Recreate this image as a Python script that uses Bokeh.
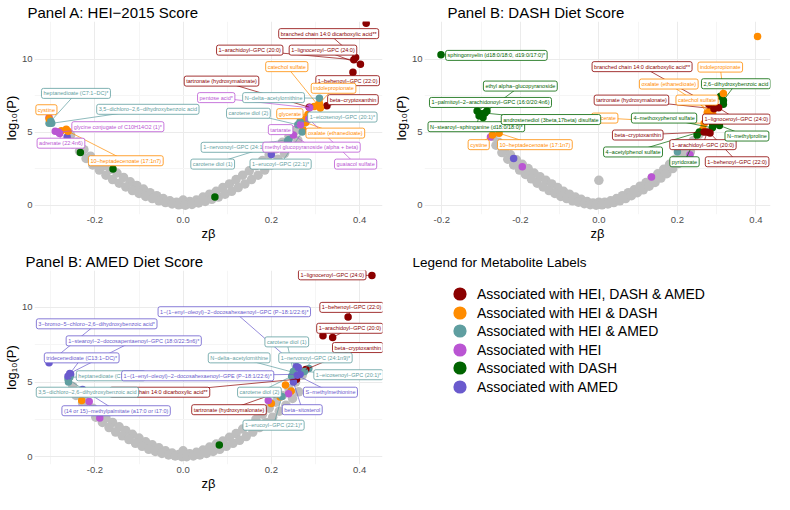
import numpy as np
from bokeh.plotting import figure
from bokeh.models import Range1d, FixedTicker, ColumnDataSource, Legend, LegendItem
from bokeh.layouts import column, row
from bokeh.embed import file_html
from bokeh.resources import INLINE
from bokeh.core.properties import value

FONT = "Liberation Sans"

# ---------------- groups ----------------
group_order = ["HDA", "HD", "HA", "H", "D", "A"]
group_colors = {"HDA": "#8B0000", "HD": "#FF8C00", "HA": "#5F9EA0",
                "H": "#BA55D3", "D": "#006400", "A": "#6A5ACD"}
group_labels = {"HDA": "Associated with HEI, DASH & AMED",
                "HD": "Associated with HEI & DASH",
                "HA": "Associated with HEI & AMED",
                "H": "Associated with HEI",
                "D": "Associated with DASH",
                "A": "Associated with AMED"}

# ---------------- Panel A: HEI-2015 ----------------
A_gray_beta = [-0.255, -0.24, -0.225, -0.21, -0.195, -0.18, -0.165, -0.15, -0.135, -0.12, -0.105, -0.09,
               -0.075, -0.06, -0.045, -0.03, -0.015, 0.0, 0.015, 0.03, 0.045, 0.06, 0.075, 0.09, 0.105,
               0.12, 0.135, 0.15, 0.165, 0.18, 0.195, 0.21, 0.225, 0.24, 0.255, 0.27,
               -0.25, -0.235, -0.22, -0.205, -0.19, -0.175, -0.16, -0.145, -0.13, -0.115, -0.1, -0.085,
               -0.07, -0.055, -0.04, -0.025, -0.01, 0.005, 0.02, 0.035, 0.05, 0.065, 0.08, 0.095, 0.11,
               0.125, 0.14, 0.155, 0.17, 0.185, 0.2, 0.215, 0.23, 0.245, 0.26]
A_gray_logp = [4.8, 4.3, 3.8, 3.35, 3.0, 2.7, 2.45, 2.2, 1.9, 1.6, 1.35, 1.1,
               0.85, 0.65, 0.45, 0.3, 0.2, 0.35, 0.25, 0.35, 0.55, 0.75, 0.95, 1.2, 1.45,
               1.75, 2.05, 2.35, 2.7, 3.05, 3.45, 3.85, 4.3, 4.7, 5.1, 5.5,
               4.2, 3.7, 3.2, 2.75, 2.4, 2.05, 1.75, 1.5, 1.25, 1.0, 0.8, 0.6,
               0.45, 0.3, 0.18, 0.08, 0.02, 0.0, 0.05, 0.15, 0.25, 0.4, 0.55, 0.75, 0.95,
               1.2, 1.45, 1.75, 2.05, 2.4, 2.75, 3.15, 3.55, 4.0, 4.45]

A_dot_beta = [0.415, -0.276, -0.265, 0.297, 0.309, 0.275, 0.272, -0.304, -0.304, -0.29,
              -0.233, -0.159, 0.072, -0.263, 0.2]
A_dot_logp = [12.45, 5.1, 5.2, 6.75, 6.95, 5.9, 5.15, 5.6, 6.0, 5.05,
              3.61, 2.47, 0.55, 4.66, 3.47]
A_dot_group = ["HDA", "HD", "HD", "HD", "HD", "HD", "HD", "HA", "H", "H",
               "D", "D", "D", "A", "A"]

A_names = ["branched chain 14:0 dicarboxylic acid**", "1−arachidoyl−GPC (20:0)", "1−lignoceroyl−GPC (24:0)",
           "1−behenoyl−GPC (22:0)", "tartronate (hydroxymalonate)", "beta−cryptoxanthin",
           "catechol sulfate", "indolepropionate", "glycerate", "oxalate (ethanedioate)", "cystine",
           "10−heptadecenoate (17:1n7)", "heptanedioate (C7:1−DC)*",
           "3,5−dichloro−2,6−dihydroxybenzoic acid", "N−delta−acetylornithine", "carotene diol (2)",
           "1−eicosenoyl−GPC (20:1)*", "1−nervonoyl−GPC (24:1n9)*", "carotene diol (1)",
           "1−erucoyl−GPC (22:1)*", "glycine conjugate of C10H14O2 (1)*", "adrenate (22:4n6)",
           "pentose acid*", "tartarate", "methyl glucopyranoside (alpha + beta)", "guaiacol sulfate"]
A_group = ["HDA", "HDA", "HDA", "HDA", "HDA", "HDA", "HD", "HD", "HD", "HD", "HD", "HD",
           "HA", "HA", "HA", "HA", "HA", "HA", "HA", "HA", "H", "H", "H", "H", "H", "H"]
A_beta = [0.391, 0.387, 0.402, 0.385, 0.286, 0.326, 0.311, 0.304, 0.283, 0.278, -0.304, -0.261,
          -0.30, -0.298, 0.309, 0.26, 0.265, 0.24, 0.237, 0.27, -0.283, -0.28, 0.287, 0.266, 0.25, 0.285]
A_logp = [10.1, 9.95, 9.65, 9.1, 6.7, 6.8, 6.65, 6.8, 6.2, 5.65, 5.92, 5.06,
          5.75, 5.6, 7.32, 5.5, 5.7, 4.5, 4.4, 5.0, 5.0, 4.9, 6.66, 5.51, 4.8, 5.9]
# label box centres (layout)
A_lab_x = [0.330, 0.151, 0.317, 0.373, 0.087, 0.385, 0.235, 0.341, 0.242, 0.345, -0.310, -0.130,
           -0.243, -0.080, 0.205, 0.148, 0.361, 0.124, 0.067, 0.221, -0.148, -0.277, 0.075, 0.221, 0.291, 0.391]
A_lab_y = [11.74, 10.61, 10.61, 8.52, 8.49, 7.22, 9.48, 8.0, 6.26, 4.93, 6.53, 3.04,
           7.65, 6.56, 7.36, 6.29, 6.03, 3.96, 2.81, 2.81, 5.37, 4.24, 7.36, 5.17, 3.97, 2.81]

# ---------------- Panel B: DASH ----------------
B_gray_beta = [-0.27, -0.255, -0.24, -0.225, -0.21, -0.195, -0.18, -0.165, -0.15, -0.135, -0.12, -0.105,
               -0.09, -0.075, -0.06, -0.045, -0.03, -0.015, 0.0, 0.015, 0.03, 0.045, 0.06, 0.075, 0.09,
               0.105, 0.12, 0.135, 0.15, 0.165, 0.18, 0.195, 0.21, 0.225, 0.24, 0.255,
               -0.262, -0.247, -0.232, -0.217, -0.202, -0.187, -0.172, -0.157, -0.142, -0.127, -0.112,
               -0.097, -0.082, -0.067, -0.052, -0.037, -0.022, -0.007, 0.008, 0.023, 0.038, 0.053, 0.068,
               0.083, 0.098, 0.113, 0.128, 0.143, 0.158, 0.173, 0.188, 0.203, 0.218, 0.233, 0.248, 0.0]
B_gray_logp = [4.7, 4.3, 3.85, 3.45, 3.1, 2.8, 2.5, 2.2, 1.95, 1.7, 1.45, 1.2,
               0.95, 0.75, 0.55, 0.4, 0.25, 0.15, 0.2, 0.2, 0.3, 0.45, 0.65, 0.85, 1.05,
               1.3, 1.55, 1.85, 2.15, 2.45, 2.8, 3.15, 3.55, 3.95, 4.4, 4.85,
               4.1, 3.6, 3.15, 2.75, 2.4, 2.1, 1.8, 1.5, 1.25, 1.0, 0.8,
               0.6, 0.45, 0.3, 0.2, 0.1, 0.03, 0.0, 0.02, 0.08, 0.18, 0.3, 0.45,
               0.65, 0.85, 1.05, 1.3, 1.55, 1.85, 2.15, 2.5, 2.85, 3.25, 3.65, 4.1, 1.7]

B_dot_beta = [0.404, 0.265, 0.283, 0.29, 0.31, 0.317, 0.29, -0.30, -0.295,
              -0.276, -0.195, 0.232, 0.134, -0.217, 0.2]
B_dot_logp = [11.55, 5.2, 6.9, 6.2, 7.45, 6.9, 5.5, 6.25, 6.0,
              4.66, 2.62, 3.45, 1.93, 3.2, 3.65]
B_dot_group = ["HD", "HD", "HD", "HD", "D", "D", "D", "D", "D",
               "H", "H", "H", "H", "A", "HA"]

B_names = ["sphingomyelin (d18:0/18:0, d19:0/17:0)*", "ethyl alpha−glucopyranoside",
           "1−palmitoyl−2−arachidonoyl−GPC (16:0/20:4n6)", "N−stearoyl−sphinganine (d18:0/18:0)*",
           "androstenediol (3beta,17beta) disulfate", "2,6−dihydroxybenzoic acid", "4−methoxyphenol sulfate",
           "N−methylproline", "4−acetylphenol sulfate", "pyridoxate", "indolepropionate",
           "oxalate (ethanedioate)", "catechol sulfate", "glycerate", "cystine", "10−heptadecenoate (17:1n7)",
           "branched chain 14:0 dicarboxylic acid**", "tartronate (hydroxymalonate)",
           "1−lignoceroyl−GPC (24:0)", "beta−cryptoxanthin", "1−arachidoyl−GPC (20:0)", "1−behenoyl−GPC (22:0)"]
B_group = ["D", "D", "D", "D", "D", "D", "D", "D", "D", "D", "HD", "HD", "HD", "HD", "HD", "HD",
           "HDA", "HDA", "HDA", "HDA", "HDA", "HDA"]
B_beta = [-0.402, -0.285, -0.31, -0.305, -0.29, 0.317, 0.289, 0.307, 0.256, 0.25, 0.317,
          0.283, 0.276, 0.268, -0.271, -0.254, 0.28, 0.293, 0.305, 0.268, 0.276, 0.283]
B_logp = [10.29, 6.45, 6.45, 6.12, 6.3, 7.16, 5.29, 5.46, 5.0, 4.8, 7.65,
          6.45, 6.32, 5.59, 4.8, 4.92, 6.91, 6.6, 6.66, 5.0, 5.0, 4.93]
B_lab_x = [-0.261, -0.2, -0.276, -0.312, -0.122, 0.349, 0.166, 0.377, 0.087, 0.218, 0.309,
           0.178, 0.25, 0.015, -0.306, -0.163, 0.11, 0.083, 0.35, 0.099, 0.265, 0.352]
B_lab_y = [10.25, 8.15, 7.03, 5.37, 5.86, 8.31, 5.96, 4.73, 3.64, 2.97, 9.45,
           8.29, 7.19, 5.96, 4.14, 4.14, 9.48, 7.19, 5.89, 4.8, 4.14, 2.97]

# ---------------- Panel C: AMED ----------------
C_gray_beta = [-0.25, -0.235, -0.22, -0.205, -0.19, -0.175, -0.16, -0.145, -0.13, -0.115, -0.1, -0.085,
               -0.07, -0.055, -0.04, -0.025, -0.01, 0.0, 0.015, 0.03, 0.045, 0.06, 0.075, 0.09, 0.105,
               0.12, 0.135, 0.15, 0.165, 0.18, 0.195, 0.21, 0.225, 0.24, 0.255, 0.27,
               -0.243, -0.228, -0.213, -0.198, -0.183, -0.168, -0.153, -0.138, -0.123, -0.108, -0.093,
               -0.078, -0.063, -0.048, -0.033, -0.018, -0.003, 0.008, 0.023, 0.038, 0.053, 0.068, 0.083,
               0.098, 0.113, 0.128, 0.143, 0.158, 0.173, 0.188, 0.203, 0.218, 0.233, 0.248, 0.262]
C_gray_logp = [4.7, 4.2, 3.7, 3.25, 2.9, 2.6, 2.3, 2.0, 1.75, 1.5, 1.25, 1.0,
               0.8, 0.6, 0.4, 0.25, 0.15, 0.4, 0.2, 0.3, 0.45, 0.65, 0.85, 1.05, 1.3,
               1.55, 1.85, 2.15, 2.5, 2.85, 3.25, 3.65, 4.1, 4.55, 5.0, 5.45,
               4.1, 3.6, 3.1, 2.65, 2.3, 1.95, 1.65, 1.4, 1.15, 0.9, 0.7,
               0.5, 0.35, 0.22, 0.12, 0.05, 0.0, 0.0, 0.05, 0.12, 0.22, 0.35, 0.5,
               0.7, 0.9, 1.1, 1.35, 1.65, 1.95, 2.3, 2.65, 3.05, 3.45, 3.9, 4.35]

C_dot_beta = [0.317, 0.232, 0.245, 0.2, -0.23, 0.22, -0.213, -0.189, 0.193, 0.239,
              0.082, 0.257, -0.255, -0.26, 0.285]
C_dot_logp = [8.1, 4.8, 4.4, 3.57, 3.77, 4.0, 3.7, 2.6, 3.77, 4.22,
              0.78, 6.04, 5.5, 5.0, 5.9]
C_dot_group = ["HDA", "HD", "HD", "HD", "HD", "HD", "H", "H", "H", "H",
               "D", "A", "A", "HA", "HA"]

C_names = ["1−lignoceroyl−GPC (24:0)", "1−behenoyl−GPC (22:0)", "1−arachidoyl−GPC (20:0)",
           "beta−cryptoxanthin", "branched chain 14:0 dicarboxylic acid**", "tartronate (hydroxymalonate)",
           "carotene diol (1)", "N−delta−acetylornithine", "1−nervonoyl−GPC (24:1n9)*",
           "1−eicosenoyl−GPC (20:1)*", "carotene diol (2)", "1−erucoyl−GPC (22:1)*",
           "heptanedioate (C7:1−DC)*", "3,5−dichloro−2,6−dihydroxybenzoic acid",
           "1−(1−enyl−oleoyl)−2−docosahexaenoyl−GPC (P−18:1/22:6)*",
           "3−bromo−5−chloro−2,6−dihydroxybenzoic acid*",
           "1−stearoyl−2−docosapentaenoyl−GPC (18:0/22:5n6)*", "tridecenedioate (C13:1−DC)*",
           "1−(1−enyl−oleoyl)−2−docosahexaenoyl−GPE (P−18:1/22:6)*", "S−methylmethionine",
           "beta−sitosterol", "(14 or 15)−methylpalmitate (a17:0 or i17:0)"]
C_group = ["HDA", "HDA", "HDA", "HDA", "HDA", "HDA", "HA", "HA", "HA", "HA", "HA", "HA", "HA", "HA",
           "A", "A", "A", "A", "A", "A", "A", "A"]
C_beta = [0.428, 0.374, 0.339, 0.278, 0.257, 0.207, 0.25, 0.25, 0.268, 0.275, 0.246, 0.224,
          -0.257, -0.261, 0.261, -0.304, -0.257, -0.261, 0.265, 0.259, 0.25, -0.228]
C_logp = [12.14, 9.35, 7.99, 5.84, 5.19, 4.22, 5.71, 5.65, 5.65, 5.71, 5.39, 4.03,
          5.32, 5.2, 5.97, 6.3, 5.58, 5.39, 5.52, 5.45, 5.0, 4.5]
C_lab_x = [0.338, 0.382, 0.378, 0.396, -0.053, 0.104, 0.235, 0.127, 0.30, 0.375, 0.173, 0.205,
           -0.164, -0.217, 0.116, -0.196, -0.112, -0.23, 0.033, 0.334, 0.27, -0.152]
C_lab_y = [12.18, 10.0, 8.6, 7.31, 4.32, 3.15, 7.69, 6.62, 6.62, 5.49, 4.32, 2.11,
           5.42, 4.32, 9.71, 8.9, 7.76, 6.62, 5.42, 4.32, 3.15, 3.08]

x_ticks_std = [-0.2, 0.0, 0.2, 0.4]
x_tick_labels_std = ["-0.2", "0.0", "0.2", "0.4"]
x_ticks_B = [-0.4, -0.2, 0.0, 0.2, 0.4]
x_tick_labels_B = ["-0.2", "-0.2", "0.0", "0.2", "0.4"]
x_minor = [-0.3, -0.1, 0.1, 0.3]
y_ticks = [0, 5, 10]
y_minor = [2.5, 7.5]


def style_title(p, size, offset):
    p.title.text_font = FONT
    p.title.text_font_size = size
    p.title.text_font_style = "normal"
    p.title.text_color = "black"
    p.title.align = "left"
    p.title.offset = offset
    p.title.standoff = 2


def build_panel(title, width, height, xr, yr, xticks, xlabels,
                gray_b, gray_p, dot_b, dot_p, dot_g,
                names, grp, beta, logp, lab_x, lab_y,
                bl, br, bt, bb, title_offset):
    p = figure(width=width, height=height, x_range=Range1d(*xr), y_range=Range1d(*yr),
               output_backend="svg", toolbar_location=None, title=title,
               min_border_left=bl, min_border_right=br, min_border_top=bt, min_border_bottom=bb)
    style_title(p, "15px", title_offset)
    p.outline_line_color = None
    p.background_fill_color = "white"

    p.xaxis.ticker = FixedTicker(ticks=xticks, minor_ticks=x_minor)
    p.xaxis.major_label_overrides = {t: l for t, l in zip(xticks, xlabels)}
    p.yaxis.ticker = FixedTicker(ticks=y_ticks, minor_ticks=y_minor)
    p.xaxis.axis_label = "zβ"
    p.yaxis.axis_label = "log₁₀(P)"
    for ax in p.axis:
        ax.axis_line_color = None
        ax.major_tick_line_color = None
        ax.minor_tick_line_color = None
        ax.major_tick_out = 0
        ax.major_tick_in = 0
        ax.minor_tick_out = 0
        ax.minor_tick_in = 0
        ax.major_label_text_font = FONT
        ax.major_label_text_font_size = "9.5px"
        ax.major_label_text_color = "#4D4D4D"
        ax.major_label_standoff = 2
        ax.axis_label_text_font = FONT
        ax.axis_label_text_font_size = "13px"
        ax.axis_label_text_font_style = "normal"
        ax.axis_label_text_color = "black"
        ax.axis_label_standoff = 0
    p.grid.grid_line_color = "#EBEBEB"
    p.grid.grid_line_width = 1
    p.grid.minor_grid_line_color = "#F5F5F5"

    # background metabolites
    p.scatter(gray_b, gray_p, size=9.5, color="#BEBEBE", line_color=None)

    # coloured metabolites
    all_b = list(dot_b) + list(beta)
    all_p = list(dot_p) + list(logp)
    all_c = [group_colors[g] for g in list(dot_g) + list(grp)]
    p.scatter(x="x", y="y", color="c", size=7.5, line_color=None,
              source=ColumnDataSource(dict(x=all_b, y=all_p, c=all_c)))

    # leader segments
    for g in group_order:
        idx = [i for i in range(len(names)) if grp[i] == g]
        if not idx:
            continue
        p.segment(x0=[lab_x[i] for i in idx], y0=[lab_y[i] for i in idx],
                  x1=[beta[i] for i in idx], y1=[logp[i] for i in idx],
                  line_color=group_colors[g], line_width=0.7)
    # labels
    for g in group_order:
        idx = [i for i in range(len(names)) if grp[i] == g]
        if not idx:
            continue
        src = ColumnDataSource(dict(x=[lab_x[i] for i in idx], y=[lab_y[i] for i in idx],
                                    t=[names[i] for i in idx]))
        c = group_colors[g]
        p.text(x="x", y="y", text="t", source=src, text_color=c, text_font=value(FONT),
               text_font_size="5.5px", text_align="center", text_baseline="middle",
               background_fill_color="white", border_line_color=c, border_line_width=0.8,
               padding=2, border_radius=2)
    return p


pA = build_panel("Panel A: HEI−2015 Score", 390, 244, (-0.337, 0.452), (-0.64, 12.57),
                 x_ticks_std, x_tick_labels_std,
                 A_gray_beta, A_gray_logp, A_dot_beta, A_dot_logp, A_dot_group,
                 A_names, A_group, A_beta, A_logp, A_lab_x, A_lab_y, 26, 8, 12, 30, -7)
pB = build_panel("Panel B: DASH Diet Score", 384, 244, (-0.444, 0.437), (-0.64, 12.57),
                 x_ticks_B, x_tick_labels_B,
                 B_gray_beta, B_gray_logp, B_dot_beta, B_dot_logp, B_dot_group,
                 B_names, B_group, B_beta, B_logp, B_lab_x, B_lab_y, 26, 4, 12, 30, 23)
pC = build_panel("Panel B: AMED Diet Score", 390, 250, (-0.337, 0.452), (-0.52, 12.47),
                 x_ticks_std, x_tick_labels_std,
                 C_gray_beta, C_gray_logp, C_dot_beta, C_dot_logp, C_dot_group,
                 C_names, C_group, C_beta, C_logp, C_lab_x, C_lab_y, 26, 8, 26, 30, -9)

# ---------------- legend figure ----------------
pL = figure(width=384, height=250, x_range=Range1d(0, 1), y_range=Range1d(0, 1),
            output_backend="svg", toolbar_location=None, title="Legend for Metabolite Labels",
            min_border_left=0, min_border_right=0, min_border_top=26, min_border_bottom=30)
style_title(pL, "13.5px", 22)
pL.axis.visible = False
pL.grid.visible = False
pL.outline_line_color = None
# one single-item legend per group, stacked 19 px apart (screen offsets from frame bottom)
legend_offsets_y = [154, 135, 117, 98, 80, 61]
for g, oy in zip(group_order, legend_offsets_y):
    # placeholder (NaN) point: only the legend swatch is drawn
    r = pL.scatter(x=np.array([np.nan]), y=np.array([np.nan]), size=13,
                   color=group_colors[g], line_color=None)
    leg = Legend(items=[LegendItem(label=group_labels[g], renderers=[r])],
                 location=(53, oy), padding=0, margin=0, spacing=0,
                 glyph_width=33, glyph_height=33, label_height=33, label_standoff=1,
                 label_text_font=FONT, label_text_font_size="14px", label_text_color="black",
                 border_line_color=None, background_fill_alpha=0)
    pL.add_layout(leg)

layout = column(row(pA, pB), row(pC, pL))
open("out.html", "w").write(file_html(layout, INLINE))
